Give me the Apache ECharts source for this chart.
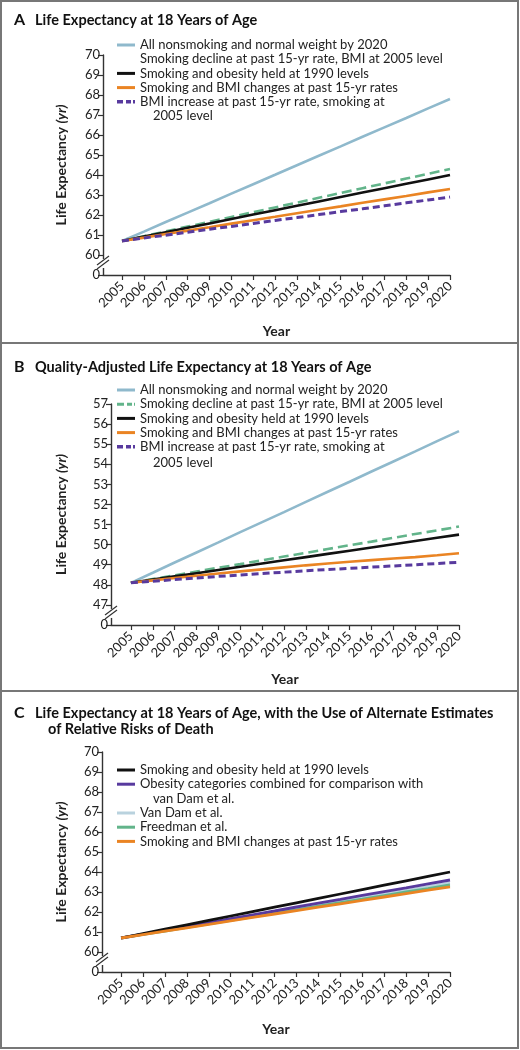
<!DOCTYPE html>
<html><head><meta charset="utf-8">
<script src="https://cdn.jsdelivr.net/npm/echarts@6/dist/echarts.min.js"></script>
<style>html,body{margin:0;padding:0;background:#fff}#c{width:520px;height:1050px}</style>
</head><body><div id="c"></div><script>
// ---------- data ----------
const years = [2005,2006,2007,2008,2009,2010,2011,2012,2013,2014,2015,2016,2017,2018,2019,2020];

// Panel A: life expectancy at 18 years of age
const aNonsmokingNormal = [60.70,61.17,61.65,62.12,62.59,63.07,63.54,64.01,64.49,64.96,65.43,65.91,66.38,66.85,67.33,67.80];
const aSmokingDecline   = [60.70,60.94,61.18,61.42,61.66,61.90,62.14,62.38,62.62,62.86,63.10,63.34,63.58,63.82,64.06,64.30];
const aHeld1990         = [60.70,60.92,61.14,61.36,61.58,61.80,62.02,62.24,62.46,62.68,62.90,63.12,63.34,63.56,63.78,64.00];
const aPast15yr         = [60.70,60.87,61.05,61.22,61.39,61.57,61.74,61.91,62.09,62.26,62.43,62.61,62.78,62.95,63.13,63.30];
const aBmiIncrease      = [60.70,60.85,60.99,61.14,61.29,61.43,61.58,61.73,61.87,62.02,62.17,62.31,62.46,62.61,62.75,62.90];

// Panel B: quality-adjusted life expectancy at 18 years of age
const bNonsmokingNormal = [48.10,48.60,49.11,49.61,50.11,50.62,51.12,51.62,52.13,52.63,53.13,53.64,54.14,54.64,55.15,55.65];
const bSmokingDecline   = [48.10,48.29,48.47,48.66,48.85,49.03,49.22,49.41,49.59,49.78,49.97,50.15,50.34,50.53,50.71,50.90];
const bHeld1990         = [48.10,48.26,48.42,48.58,48.74,48.90,49.06,49.22,49.38,49.54,49.70,49.86,50.02,50.18,50.34,50.50];
const bPast15yr         = [48.10,48.22,48.34,48.45,48.56,48.67,48.77,48.87,48.97,49.06,49.15,49.23,49.31,49.38,49.47,49.57];
const bBmiIncrease      = [48.10,48.18,48.26,48.34,48.42,48.49,48.56,48.63,48.70,48.76,48.82,48.88,48.94,49.00,49.06,49.12];

// Panel C: alternate estimates of relative risks of death
const cHeld1990         = [60.70,60.92,61.14,61.36,61.58,61.80,62.02,62.24,62.46,62.68,62.90,63.12,63.34,63.56,63.78,64.00];
const cObesityCombined  = [60.70,60.89,61.09,61.28,61.47,61.67,61.86,62.05,62.25,62.44,62.63,62.83,63.02,63.21,63.41,63.60];
const cVanDam           = [60.70,60.88,61.07,61.25,61.43,61.62,61.80,61.98,62.17,62.35,62.53,62.72,62.90,63.08,63.27,63.45];
const cFreedman         = [60.70,60.88,61.05,61.23,61.41,61.58,61.76,61.94,62.11,62.29,62.47,62.64,62.82,63.00,63.17,63.35];
const cPast15yr         = [60.70,60.87,61.04,61.21,61.38,61.56,61.73,61.90,62.07,62.24,62.41,62.58,62.75,62.92,63.09,63.26];

// names
const N = {
  nonsmoking: 'All nonsmoking and normal weight by 2020',
  decline: 'Smoking decline at past 15-yr rate, BMI at 2005 level',
  held: 'Smoking and obesity held at 1990 levels',
  past: 'Smoking and BMI changes at past 15-yr rates',
  bmiInc: 'BMI increase at past 15-yr rate, smoking at',
  combined: 'Obesity categories combined for comparison with',
  vanDam: 'Van Dam et al.',
  freedman: 'Freedman et al.'
};

// ---------- styles ----------
const FONT = 'Lato, "Open Sans", sans-serif';
const TXT = '#222';
const COL = { blue:'#8fb9cc', green:'#62b48a', black:'#111111', orange:'#ea8423', purple:'#583a9e', lightBlue:'#b9d2de' };
const ICON_SOLID = 'path://M0,0H18V3H0Z';
const ICON_DASH_G = 'path://M0,0H7V3H0Z M10,0H15V3H10Z M17,0H18V3H17Z';
const ICON_DASH_P = 'path://M0,0H6V3.6H0Z M9,0H14V3.6H9Z M16,0H18V3.6H16Z';

const chart = echarts.init(document.getElementById('c'), null, {renderer:'canvas'});

const grids = [
  {left:103, top:55,  width:347, height:220},
  {left:111, top:404, width:348, height:221},
  {left:102, top:752, width:348, height:220}
];
const xMins = [2004.13, 2004.09, 2004.13];
const yRanges = [[59,70],[46,57],[59,70]];
const nameGaps = [35, 43, 34];
const yearGaps = [49, 47, 50];

function pairs(arr){ return years.map((y,i)=>[y, arr[i]]); }

function xAxis(i){
  return {
    type:'value', gridIndex:i, min:xMins[i], max:2020,
    name:'Year', nameLocation:'middle', nameGap: yearGaps[i],
    nameTextStyle:{fontFamily:FONT, fontWeight:'bold', fontSize:14, color:TXT},
    axisLine:{show:true, onZero:false, lineStyle:{color:'#333', width:1.4}},
    axisTick:{show:true, length:5, lineStyle:{color:'#333', width:1.2}, customValues:years},
    axisLabel:{rotate:45, fontFamily:FONT, fontSize:13, color:TXT, margin:9, customValues:years, formatter:v=>String(v)},
    splitLine:{show:false}
  };
}
function yAxis(i){
  const lo = yRanges[i][0];
  return {
    type:'value', gridIndex:i, min:lo, max:yRanges[i][1], interval:1,
    name:'{b|Life Expectancy }{it|(yr)}', nameLocation:'middle', nameGap:nameGaps[i], nameRotate:90,
    nameTextStyle:{rich:{
      b:{fontFamily:FONT, fontWeight:'bold', fontSize:14, color:TXT},
      it:{fontFamily:FONT, fontWeight:'bold', fontStyle:'italic', fontSize:14, color:TXT}
    }},
    axisLine:{show:true, lineStyle:{color:'#333', width:1.4}},
    axisTick:{show:true, length:5, lineStyle:{color:'#333', width:1.2}},
    axisLabel:{fontFamily:FONT, fontSize:13, color:TXT, margin:3, formatter:v=> v===lo ? '0' : String(v)},
    splitLine:{show:false}
  };
}
function line(name, data, gi, color, width, dash){
  return {
    type:'line', name, xAxisIndex:gi, yAxisIndex:gi, data:pairs(data),
    symbol:'none', silent:true, animation:false, color,
    itemStyle:{color},
    lineStyle:{color, width, type: dash || 'solid', cap:'butt'}
  };
}
function legend(top, items){
  return {
    left:117, top, orient:'vertical', padding:0, itemGap:0.2, itemWidth:18, itemHeight:14,
    selectedMode:false, data:items, symbolKeepAspect:true,
    textStyle:{fontFamily:FONT, fontSize:13, color:TXT, lineHeight:14}
  };
}

const series = [
  line(N.nonsmoking, aNonsmokingNormal, 0, COL.blue, 2.6),
  line(N.decline, aSmokingDecline, 0, COL.green, 2.6, [10,5]),
  line(N.held, aHeld1990, 0, COL.black, 2.6),
  line(N.past, aPast15yr, 0, COL.orange, 2.6),
  line(N.bmiInc, aBmiIncrease, 0, COL.purple, 3, [7,4]),

  line(N.nonsmoking, bNonsmokingNormal, 1, COL.blue, 2.6),
  line(N.decline, bSmokingDecline, 1, COL.green, 2.6, [10,5]),
  line(N.held, bHeld1990, 1, COL.black, 2.6),
  line(N.past, bPast15yr, 1, COL.orange, 2.6),
  line(N.bmiInc, bBmiIncrease, 1, COL.purple, 3, [7,4]),

  line(N.vanDam, cVanDam, 2, COL.lightBlue, 2.8),
  line(N.freedman, cFreedman, 2, COL.green, 2.8),
  line(N.combined, cObesityCombined, 2, COL.purple, 2.8),
  line(N.held, cHeld1990, 2, COL.black, 2.8),
  line(N.past, cPast15yr, 2, COL.orange, 2.8)
];

const titleBase = {fontFamily:FONT, fontWeight:'bold', fontSize:14.5, color:'#111'};
const titles = [
  {text:'A', left:9, top:7, textStyle:Object.assign({}, titleBase, {fontSize:16})},
  {text:'Life Expectancy at 18 Years of Age', left:30, top:8, textStyle:titleBase},
  {text:'B', left:9, top:354, textStyle:Object.assign({}, titleBase, {fontSize:16})},
  {text:'Quality-Adjusted Life Expectancy at 18 Years of Age', left:30, top:355, textStyle:titleBase},
  {text:'C', left:9, top:700, textStyle:Object.assign({}, titleBase, {fontSize:16})},
  {text:'Life Expectancy at 18 Years of Age, with the Use of Alternate Estimates', left:30, top:701, textStyle:titleBase},
  {text:'of Relative Risks of Death', left:43, top:717, textStyle:titleBase}
];

const it = (name, icon, extra) => Object.assign({name, icon}, extra || {});
const legends = [
  legend(38, [it(N.nonsmoking, ICON_SOLID), it(N.decline, ICON_SOLID, {itemStyle:{opacity:0}}), it(N.held, ICON_SOLID), it(N.past, ICON_SOLID), it(N.bmiInc, ICON_DASH_P)]),
  legend(383, [it(N.nonsmoking, ICON_SOLID), it(N.decline, ICON_DASH_G), it(N.held, ICON_SOLID), it(N.past, ICON_SOLID), it(N.bmiInc, ICON_DASH_P)]),
  legend(763, [it(N.held, ICON_SOLID), it(N.combined, ICON_SOLID)]),
  legend(806, [it(N.vanDam, ICON_SOLID), it(N.freedman, ICON_SOLID), it(N.past, ICON_SOLID)])
];

chart.setOption({
  backgroundColor:'#fff',
  animation:false,
  title:titles,
  legend:legends,
  grid:grids.map(g=>Object.assign({containLabel:false}, g)),
  xAxis:[0,1,2].map(xAxis),
  yAxis:[0,1,2].map(yAxis),
  series
});

// decorations: panel frame, wrapped legend lines, axis break marks
const deco = [
  {type:'rect', shape:{x:1, y:1, width:517, height:1047}, style:{fill:'none', stroke:'#777', lineWidth:2}, z:100},
  {type:'line', shape:{x1:1, y1:343, x2:518, y2:343}, style:{stroke:'#777', lineWidth:2}, z:100},
  {type:'line', shape:{x1:1, y1:691, x2:518, y2:691}, style:{stroke:'#777', lineWidth:2}, z:100},
  {type:'text', x:153, y:116, style:{text:'2005 level', font:'13px '+FONT, fill:TXT, verticalAlign:'middle'}},
  {type:'text', x:153, y:463, style:{text:'2005 level', font:'13px '+FONT, fill:TXT, verticalAlign:'middle'}},
  {type:'text', x:153, y:799, style:{text:'van Dam et al.', font:'13px '+FONT, fill:TXT, verticalAlign:'middle'}}
];
[0,1,2].forEach(gi=>{
  const p = chart.convertToPixel({gridIndex:gi}, [xMins[gi], yRanges[gi][0] + 0.55]);
  const x = p[0], y = p[1];
  deco.push({type:'rect', shape:{x:x-3, y:y-5, width:6, height:9}, style:{fill:'#fff'}, z:50});
  deco.push({type:'line', shape:{x1:x-6, y1:y+1, x2:x+6, y2:y-8}, style:{stroke:'#333', lineWidth:1.2}, z:51});
  deco.push({type:'line', shape:{x1:x-6, y1:y+5, x2:x+6, y2:y-4}, style:{stroke:'#333', lineWidth:1.2}, z:51});
});
chart.setOption({graphic:deco});
</script></body></html>
